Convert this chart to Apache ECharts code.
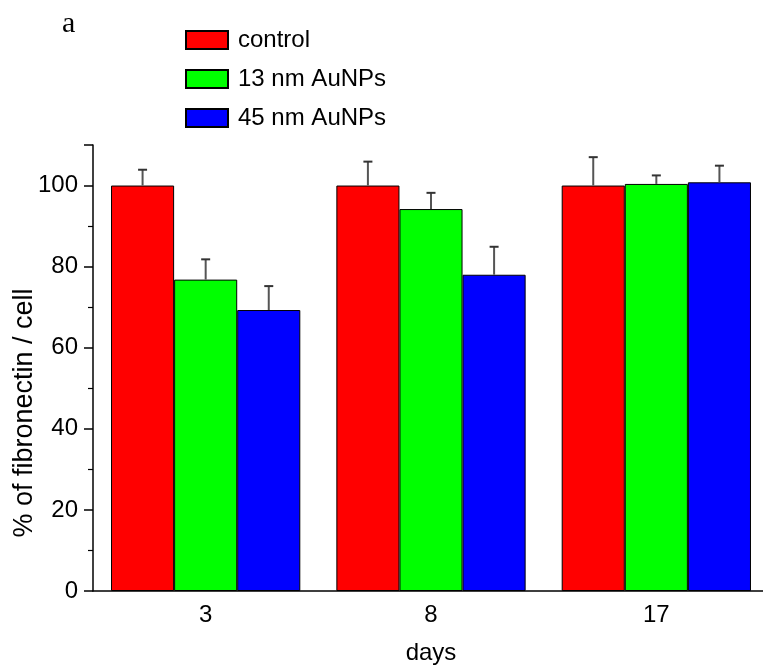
<!DOCTYPE html>
<html>
<head>
<meta charset="utf-8">
<script src="https://cdn.jsdelivr.net/npm/echarts@6/dist/echarts.min.js"></script>
<style>html,body{margin:0;padding:0;background:#fff;}#c{width:763px;height:670px;}</style>
</head>
<body>
<div id="c"></div>
<script>
const categories = ['3', '8', '17'];
const seriesNames = ['control', '13 nm AuNPs', '45 nm AuNPs'];
const control = [100, 100, 100];
const nm13 = [76.8, 94.2, 100.4];
const nm45 = [69.3, 78.0, 100.8];
const controlErr = [3.9, 5.9, 7.0];
const nm13Err = [5.0, 4.0, 2.1];
const nm45Err = [5.9, 6.9, 4.1];
const yTicks = [0, 20, 40, 60, 80, 100];
const yName = '% of fibronectin / cell';
const xName = 'days';

const colors = ['#ff0000', '#00ff00', '#0000ff'];
const values = [control, nm13, nm45];
const errs = [controlErr, nm13Err, nm45Err];
const FONT = 'Liberation Sans, Arial, sans-serif';

const errData = [];
values.forEach((vals, s) => vals.forEach((v, i) => errData.push([i, v, errs[s][i], s])));

const chart = echarts.init(document.getElementById('c'));
const barCatGap = 0.16;
chart.setOption({
  animation: false,
  grid: { left: 93, top: 145, bottom: 79, width: 676, outerBoundsMode: 'none', containLabel: false },
  graphic: [
    { type: 'text', left: 62, top: 9, style: { text: 'a', font: '30px "Liberation Serif", "Times New Roman", serif', fill: '#000' } },
    { type: 'text', x: 25, y: 413, rotation: Math.PI / 2,
      style: { text: yName, font: '27px "Liberation Sans", Arial, sans-serif', fill: '#000', align: 'center', verticalAlign: 'middle' } }
  ],
  legend: {
    orient: 'vertical', left: 180, top: 23, itemWidth: 42, itemHeight: 18, itemGap: 15, icon: 'rect',
    data: seriesNames,
    textStyle: { fontSize: 24, fontFamily: FONT, color: '#000', padding: [0, 0, 0, 5] }
  },
  xAxis: [{
    type: 'category', data: categories,
    axisLine: { lineStyle: { color: '#000', width: 1.5 } },
    axisTick: { alignWithLabel: true, length: 8, lineStyle: { color: '#000', width: 1.5 } },
    axisLabel: { fontSize: 24, fontFamily: FONT, color: '#000', margin: 12 },
    name: xName, nameLocation: 'middle', nameGap: 50,
    nameTextStyle: { fontSize: 24, fontFamily: FONT, color: '#000' }
  }, {
    type: 'category', data: categories, position: 'bottom',
    axisLine: { show: false },
    axisTick: { length: 5, lineStyle: { color: '#000', width: 1.5 } },
    axisLabel: { show: false }
  }],
  yAxis: {
    type: 'value', min: 0, max: 110, interval: 20,
    axisLine: { show: true, lineStyle: { color: '#000', width: 1.5 } },
    axisTick: { show: true, length: 9, lineStyle: { color: '#000', width: 1.5 } },
    minorTick: { show: true, splitNumber: 2, length: 5, lineStyle: { color: '#000', width: 1.2 } },
    splitLine: { show: false },
    axisLabel: { fontSize: 24, fontFamily: FONT, color: '#000', margin: 15, showMaxLabel: false,
      formatter: v => (yTicks.indexOf(v) >= 0 ? String(v) : '') }
  },
  series: values.map((vals, s) => ({
    type: 'bar', name: seriesNames[s], data: vals, barGap: '0%', barCategoryGap: (barCatGap * 100) + '%',
    itemStyle: { color: colors[s], borderColor: '#000', borderWidth: 1 }
  })).concat([{
    type: 'custom', name: 'err', z: 5, data: errData,
    renderItem: (params, api) => {
      const ci = api.value(0), v = api.value(1), e = api.value(2), s = api.value(3);
      const band = api.size([1, 0])[0];
      const bw = band * (1 - barCatGap) / 3;
      const p0 = api.coord([ci, v]);
      const p1 = api.coord([ci, v + e]);
      const x = p0[0] + (s - 1) * bw;
      const cap = 4.5;
      return { type: 'group', children: [
        { type: 'line', shape: { x1: x, y1: p0[1], x2: x, y2: p1[1] }, style: { stroke: '#555', lineWidth: 2 } },
        { type: 'line', shape: { x1: x - cap, y1: p1[1], x2: x + cap, y2: p1[1] }, style: { stroke: '#333', lineWidth: 2 } }
      ]};
    }
  }])
});
</script>
</body>
</html>
